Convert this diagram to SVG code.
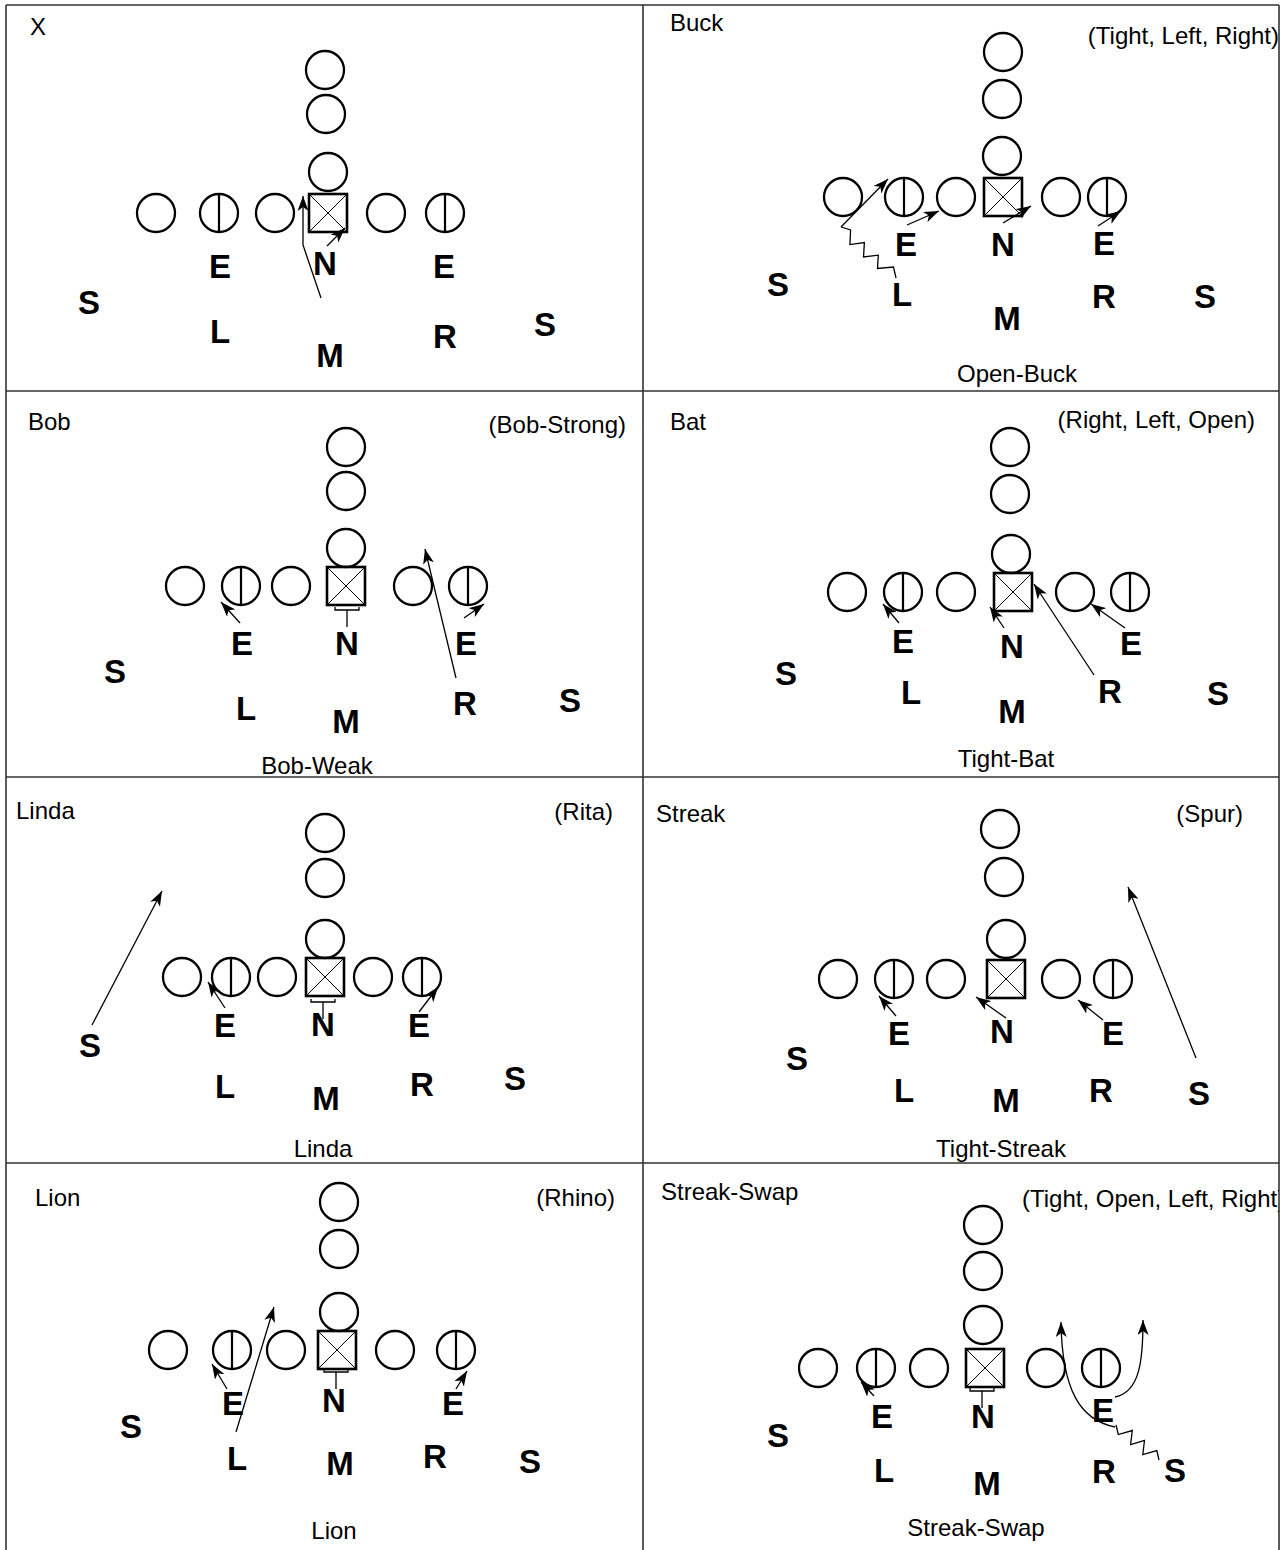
<svg xmlns="http://www.w3.org/2000/svg" xmlns:xlink="http://www.w3.org/1999/xlink" width="1288" height="1550" viewBox="0 0 1288 1550">
<style>
.bd{fill:none;stroke:#333;stroke-width:1.6}
.o{fill:none;stroke:#000;stroke-width:2.3}
.ln{stroke:#000;stroke-width:2.2}
.bxr{fill:none;stroke:#000;stroke-width:2.6}
.bxx{stroke:#000;stroke-width:1}
.k{fill:none;stroke:#000;stroke-width:1.3}
.a{fill:none;stroke:#000;stroke-width:1.3;marker-end:url(#ah)}
.t{font-family:"Liberation Sans",Arial,sans-serif;font-size:24px;fill:#000}
.r{text-anchor:end}
.c{text-anchor:middle}
.d{font-family:"Liberation Sans",Arial,sans-serif;font-size:33px;font-weight:bold;text-anchor:middle;fill:#000}
</style>
<defs>
<marker id="ah" markerUnits="userSpaceOnUse" markerWidth="16" markerHeight="11" refX="15" refY="5.5" orient="auto"><path d="M0,0 L15,5.5 L0,11 L4,5.5 z" fill="#000"/></marker>
<circle id="o" r="19" class="o"/>
<g id="oe"><circle r="19" class="o"/><line x1="0" y1="-19" x2="0" y2="19" class="ln"/></g>
<g id="bx"><rect x="-19" y="-19" width="38" height="38" class="bxr"/><path d="M-19,-19L19,19M19,-19L-19,19" class="bxx"/></g>
<path id="blk" d="M-12,-3v3h24v-3M0,0v17" class="k"/>
<clipPath id="clip8"><rect x="643" y="1163" width="636" height="387"/></clipPath>
</defs>
<g id="frame">
<path class="bd" d="M6,5H1279M6,391H1279M6,777H1279M6,1163H1279M6,5V1550M643,5V1550M1279,5V1550"/>
</g>

<g id="panel-x">
<text class="t" x="30" y="35">X</text>
<g id="p1-b1"><use xlink:href="#o" x="325" y="70"/></g>
<g id="p1-b2"><use xlink:href="#o" x="326" y="114"/></g>
<g id="p1-b3"><use xlink:href="#o" x="328" y="172"/></g>
<g id="p1-l1"><use xlink:href="#o" x="156" y="213"/></g>
<g id="p1-l2"><use xlink:href="#oe" x="219" y="213"/></g>
<g id="p1-l3"><use xlink:href="#o" x="275" y="213"/></g>
<g id="p1-c"><use xlink:href="#bx" x="328" y="213"/></g>
<g id="p1-l5"><use xlink:href="#o" x="386" y="213"/></g>
<g id="p1-l6"><use xlink:href="#oe" x="445" y="213"/></g>
<g id="p1-E1"><text class="d" x="220" y="278">E</text></g>
<g id="p1-N"><text class="d" x="325" y="275">N</text></g>
<g id="p1-E2"><text class="d" x="444" y="278">E</text></g>
<g id="p1-S1"><text class="d" x="89" y="314">S</text></g>
<g id="p1-L"><text class="d" x="220" y="343">L</text></g>
<g id="p1-M"><text class="d" x="330" y="367">M</text></g>
<g id="p1-R"><text class="d" x="445" y="348">R</text></g>
<g id="p1-S2"><text class="d" x="545" y="336">S</text></g>
</g>

<g id="panel-buck">
<text class="t" x="670" y="31">Buck</text>
<text class="t r" x="1279" y="44">(Tight, Left, Right)</text>
<text class="t c" x="1017" y="382">Open-Buck</text>
<g id="p2-b1"><use xlink:href="#o" x="1003" y="52"/></g>
<g id="p2-b2"><use xlink:href="#o" x="1002" y="99"/></g>
<g id="p2-b3"><use xlink:href="#o" x="1002" y="156"/></g>
<g id="p2-l1"><use xlink:href="#o" x="843" y="197"/></g>
<g id="p2-l2"><use xlink:href="#oe" x="904" y="197"/></g>
<g id="p2-l3"><use xlink:href="#o" x="956" y="197"/></g>
<g id="p2-c"><use xlink:href="#bx" x="1003" y="197"/></g>
<g id="p2-l5"><use xlink:href="#o" x="1061" y="197"/></g>
<g id="p2-l6"><use xlink:href="#oe" x="1107" y="197"/></g>
<g id="p2-E1"><text class="d" x="906" y="256">E</text></g>
<g id="p2-N"><text class="d" x="1003" y="256">N</text></g>
<g id="p2-E2"><text class="d" x="1104" y="255">E</text></g>
<g id="p2-S1"><text class="d" x="778" y="296">S</text></g>
<g id="p2-L"><text class="d" x="902" y="306">L</text></g>
<g id="p2-M"><text class="d" x="1007" y="330">M</text></g>
<g id="p2-R"><text class="d" x="1104" y="308">R</text></g>
<g id="p2-S2"><text class="d" x="1205" y="308">S</text></g>
</g>

<g id="panel-bob">
<text class="t" x="28" y="430">Bob</text>
<text class="t r" x="626" y="433">(Bob-Strong)</text>
<text class="t c" x="317" y="774">Bob-Weak</text>
<g id="p3-b1"><use xlink:href="#o" x="346" y="447"/></g>
<g id="p3-b2"><use xlink:href="#o" x="346" y="491"/></g>
<g id="p3-b3"><use xlink:href="#o" x="346" y="548"/></g>
<g id="p3-l1"><use xlink:href="#o" x="185" y="586"/></g>
<g id="p3-l2"><use xlink:href="#oe" x="241" y="586"/></g>
<g id="p3-l3"><use xlink:href="#o" x="291" y="586"/></g>
<g id="p3-c"><use xlink:href="#bx" x="346" y="586"/><use xlink:href="#blk" x="347" y="610"/></g>
<g id="p3-l5"><use xlink:href="#o" x="413" y="586"/></g>
<g id="p3-l6"><use xlink:href="#oe" x="468" y="586"/></g>
<g id="p3-E1"><text class="d" x="242" y="655">E</text></g>
<g id="p3-N"><text class="d" x="347" y="655">N</text></g>
<g id="p3-E2"><text class="d" x="466" y="655">E</text></g>
<g id="p3-S1"><text class="d" x="115" y="683">S</text></g>
<g id="p3-L"><text class="d" x="246" y="720">L</text></g>
<g id="p3-M"><text class="d" x="346" y="733">M</text></g>
<g id="p3-R"><text class="d" x="465" y="715">R</text></g>
<g id="p3-S2"><text class="d" x="570" y="712">S</text></g>
</g>

<g id="panel-bat">
<text class="t" x="670" y="430">Bat</text>
<text class="t r" x="1255" y="428">(Right, Left, Open)</text>
<text class="t c" x="1006" y="767">Tight-Bat</text>
<g id="p4-b1"><use xlink:href="#o" x="1010" y="447"/></g>
<g id="p4-b2"><use xlink:href="#o" x="1010" y="494"/></g>
<g id="p4-b3"><use xlink:href="#o" x="1011" y="554"/></g>
<g id="p4-l1"><use xlink:href="#o" x="847" y="592"/></g>
<g id="p4-l2"><use xlink:href="#oe" x="903" y="592"/></g>
<g id="p4-l3"><use xlink:href="#o" x="956" y="592"/></g>
<g id="p4-c"><use xlink:href="#bx" x="1013" y="592"/></g>
<g id="p4-l5"><use xlink:href="#o" x="1075" y="592"/></g>
<g id="p4-l6"><use xlink:href="#oe" x="1130" y="592"/></g>
<g id="p4-E1"><text class="d" x="903" y="653">E</text></g>
<g id="p4-N"><text class="d" x="1012" y="658">N</text></g>
<g id="p4-E2"><text class="d" x="1131" y="655">E</text></g>
<g id="p4-S1"><text class="d" x="786" y="685">S</text></g>
<g id="p4-L"><text class="d" x="911" y="704">L</text></g>
<g id="p4-M"><text class="d" x="1012" y="723">M</text></g>
<g id="p4-R"><text class="d" x="1110" y="703">R</text></g>
<g id="p4-S2"><text class="d" x="1218" y="705">S</text></g>
</g>

<g id="panel-linda">
<text class="t" x="16" y="819">Linda</text>
<text class="t r" x="613" y="820">(Rita)</text>
<text class="t c" x="323" y="1157">Linda</text>
<g id="p5-b1"><use xlink:href="#o" x="325" y="833"/></g>
<g id="p5-b2"><use xlink:href="#o" x="325" y="878"/></g>
<g id="p5-b3"><use xlink:href="#o" x="325" y="939"/></g>
<g id="p5-l1"><use xlink:href="#o" x="182" y="977"/></g>
<g id="p5-l2"><use xlink:href="#oe" x="231" y="977"/></g>
<g id="p5-l3"><use xlink:href="#o" x="277" y="977"/></g>
<g id="p5-c"><use xlink:href="#bx" x="325" y="977"/><use xlink:href="#blk" x="323" y="1002"/></g>
<g id="p5-l5"><use xlink:href="#o" x="373" y="977"/></g>
<g id="p5-l6"><use xlink:href="#oe" x="422" y="977"/></g>
<g id="p5-E1"><text class="d" x="225" y="1037">E</text></g>
<g id="p5-N"><text class="d" x="323" y="1036">N</text></g>
<g id="p5-E2"><text class="d" x="419" y="1037">E</text></g>
<g id="p5-S1"><text class="d" x="90" y="1057">S</text></g>
<g id="p5-L"><text class="d" x="225" y="1098">L</text></g>
<g id="p5-M"><text class="d" x="326" y="1110">M</text></g>
<g id="p5-R"><text class="d" x="422" y="1096">R</text></g>
<g id="p5-S2"><text class="d" x="515" y="1090">S</text></g>
</g>

<g id="panel-streak">
<text class="t" x="656" y="822">Streak</text>
<text class="t r" x="1243" y="822">(Spur)</text>
<text class="t c" x="1001" y="1157">Tight-Streak</text>
<g id="p6-b1"><use xlink:href="#o" x="1000" y="829"/></g>
<g id="p6-b2"><use xlink:href="#o" x="1004" y="877"/></g>
<g id="p6-b3"><use xlink:href="#o" x="1006" y="939"/></g>
<g id="p6-l1"><use xlink:href="#o" x="838" y="979"/></g>
<g id="p6-l2"><use xlink:href="#oe" x="894" y="979"/></g>
<g id="p6-l3"><use xlink:href="#o" x="946" y="979"/></g>
<g id="p6-c"><use xlink:href="#bx" x="1006" y="979"/></g>
<g id="p6-l5"><use xlink:href="#o" x="1061" y="979"/></g>
<g id="p6-l6"><use xlink:href="#oe" x="1113" y="979"/></g>
<g id="p6-E1"><text class="d" x="899" y="1045">E</text></g>
<g id="p6-N"><text class="d" x="1002" y="1043">N</text></g>
<g id="p6-E2"><text class="d" x="1113" y="1045">E</text></g>
<g id="p6-S1"><text class="d" x="797" y="1070">S</text></g>
<g id="p6-L"><text class="d" x="904" y="1102">L</text></g>
<g id="p6-M"><text class="d" x="1006" y="1112">M</text></g>
<g id="p6-R"><text class="d" x="1101" y="1102">R</text></g>
<g id="p6-S2"><text class="d" x="1199" y="1105">S</text></g>
</g>

<g id="panel-lion">
<text class="t" x="35" y="1206">Lion</text>
<text class="t r" x="615" y="1206">(Rhino)</text>
<text class="t c" x="334" y="1539">Lion</text>
<g id="p7-b1"><use xlink:href="#o" x="339" y="1202"/></g>
<g id="p7-b2"><use xlink:href="#o" x="339" y="1249"/></g>
<g id="p7-b3"><use xlink:href="#o" x="339" y="1312"/></g>
<g id="p7-l1"><use xlink:href="#o" x="168" y="1350"/></g>
<g id="p7-l2"><use xlink:href="#oe" x="232" y="1350"/></g>
<g id="p7-l3"><use xlink:href="#o" x="286" y="1350"/></g>
<g id="p7-c"><use xlink:href="#bx" x="337" y="1350"/><use xlink:href="#blk" x="336" y="1372"/></g>
<g id="p7-l5"><use xlink:href="#o" x="395" y="1350"/></g>
<g id="p7-l6"><use xlink:href="#oe" x="456" y="1350"/></g>
<g id="p7-E1"><text class="d" x="233" y="1415">E</text></g>
<g id="p7-N"><text class="d" x="334" y="1412">N</text></g>
<g id="p7-E2"><text class="d" x="453" y="1415">E</text></g>
<g id="p7-S1"><text class="d" x="131" y="1438">S</text></g>
<g id="p7-L"><text class="d" x="237" y="1470">L</text></g>
<g id="p7-M"><text class="d" x="340" y="1475">M</text></g>
<g id="p7-R"><text class="d" x="435" y="1468">R</text></g>
<g id="p7-S2"><text class="d" x="530" y="1473">S</text></g>
</g>

<g id="panel-streak-swap">
<text class="t" x="661" y="1200">Streak-Swap</text>
<text class="t" x="1022" y="1207" clip-path="url(#clip8)">(Tight, Open, Left, Right)</text>
<text class="t c" x="976" y="1536">Streak-Swap</text>
<g id="p8-b1"><use xlink:href="#o" x="983" y="1225"/></g>
<g id="p8-b2"><use xlink:href="#o" x="983" y="1271"/></g>
<g id="p8-b3"><use xlink:href="#o" x="983" y="1325"/></g>
<g id="p8-l1"><use xlink:href="#o" x="818" y="1368"/></g>
<g id="p8-l2"><use xlink:href="#oe" x="876" y="1368"/></g>
<g id="p8-l3"><use xlink:href="#o" x="929" y="1368"/></g>
<g id="p8-c"><use xlink:href="#bx" x="985" y="1368"/><use xlink:href="#blk" x="982" y="1391"/></g>
<g id="p8-l5"><use xlink:href="#o" x="1046" y="1368"/></g>
<g id="p8-l6"><use xlink:href="#oe" x="1101" y="1368"/></g>
<g id="p8-E1"><text class="d" x="882" y="1428">E</text></g>
<g id="p8-N"><text class="d" x="983" y="1428">N</text></g>
<g id="p8-E2"><text class="d" x="1103" y="1422">E</text></g>
<g id="p8-S1"><text class="d" x="778" y="1447">S</text></g>
<g id="p8-L"><text class="d" x="884" y="1482">L</text></g>
<g id="p8-M"><text class="d" x="987" y="1495">M</text></g>
<g id="p8-R"><text class="d" x="1104" y="1483">R</text></g>
<g id="p8-S2"><text class="d" x="1175" y="1482">S</text></g>
</g>

<g id="connectors">
<path class="a" d="M321,298L303,245L303,196"/>
<path class="a" d="M327,246L345,228"/>

<path class="k" d="M896,278L893.5,267L877.5,268.5L878.3,255.2L863.5,257L864.4,242.6L849.9,244.6L850.6,230L841,227"/>
<path class="a" d="M841,227L888,179"/>
<path class="a" d="M907,225L939,211"/>
<path class="a" d="M1003,223L1031,206"/>
<path class="a" d="M1098,226L1121,211"/>

<path class="a" d="M240,623L221,602"/>
<path class="a" d="M456,678L425,549"/>
<path class="a" d="M464,618L484,604"/>

<path class="a" d="M899,623L883,604"/>
<path class="a" d="M1004,628L990,607"/>
<path class="a" d="M1094,675L1034,584"/>
<path class="a" d="M1125,628L1091,604"/>

<path class="a" d="M92,1025L162,891"/>
<path class="a" d="M225,1008L208,982"/>
<path class="a" d="M419,1012L438,987"/>

<path class="a" d="M896,1016L879,996"/>
<path class="a" d="M1006,1018L976,997"/>
<path class="a" d="M1103,1020L1078,1000"/>
<path class="a" d="M1196,1058L1128,887"/>

<path class="a" d="M227,1389L212,1364"/>
<path class="a" d="M236,1432L274,1307"/>
<path class="a" d="M456,1389L467,1371"/>

<path class="a" d="M874,1396L861,1382"/>
<path class="k" d="M1159,1460L1156.8,1450.5L1142.8,1454.5L1144.5,1440.5L1130.6,1444.5L1132.3,1430.5L1118.3,1434.5L1116,1425"/>
<path class="a" d="M1115,1427C1080,1420 1062,1390 1061,1322"/>
<path class="a" d="M1115,1397C1140,1392 1143,1360 1143,1320"/>
</g>
</svg>
